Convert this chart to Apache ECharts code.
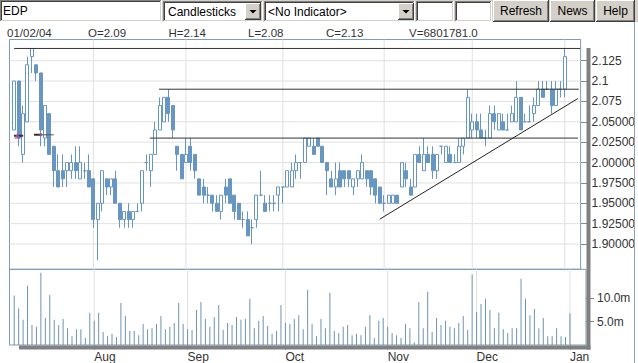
<!DOCTYPE html>
<html><head><meta charset="utf-8">
<script src="https://cdn.jsdelivr.net/npm/echarts@6/dist/echarts.min.js"></script>
<style>html,body{margin:0;padding:0;background:#fff;}#c{width:638px;height:363px;}</style>
</head><body><div id="c"></div>
<script>
// ---------- DATA ----------
const symbol = 'EDP';
const lastDate = '01/02/04';
const lastVolumeText = '6801781.0';
const monthLabels = ['Aug','Sep','Oct','Nov','Dec','Jan'];
const monthStart  = [18, 39, 61, 84, 104, 125];
const priceTicks = [1.9,1.925,1.95,1.975,2.0,2.025,2.05,2.075,2.1,2.125];
const priceTickLabels = ['1.90000','1.92500','1.95000','1.97500','2.00000','2.02500','2.05000','2.075','2.1','2.125'];
const volTicks = [5, 10];
const volTickLabels = ['5.0m','10.0m'];

const openP = [2.04,2.10,2.01,2.05,2.13,2.12,2.11,2.03,2.06,2.02,
1.99,1.99,1.99,1.99,2.00,1.98,1.99,1.99,1.98,1.93,
1.95,1.98,1.97,1.98,1.95,1.93,1.94,1.93,1.94,1.95,
2.00,1.99,2.01,2.04,2.05,2.08,2.07,2.02,2.01,2.00,
2.02,2.01,1.98,1.97,1.96,1.96,1.95,1.94,1.97,1.98,
1.96,1.95,1.93,1.93,1.92,1.93,1.96,1.95,1.95,1.95,
1.96,1.97,1.97,1.97,1.99,2.00,2.00,2.02,2.02,2.03,
2.02,2.00,1.98,1.97,1.99,1.99,1.99,1.97,1.98,1.98,
1.99,1.99,1.98,1.97,1.95,1.95,1.95,1.96,1.97,1.99,
1.97,1.97,2.01,1.99,2.01,2.01,1.99,2.02,2.00,2.01,
2.00,2.00,2.02,2.03,2.04,2.05,2.04,2.03,2.03,2.06,
2.04,2.05,2.04,2.05,2.05,2.08,2.05,2.05,2.06,2.07,
2.09,2.09,2.09,2.07,2.09,2.09];
const highP = [2.10,2.10,2.07,2.13,2.14,2.12,2.11,2.07,2.06,2.02,
2.01,2.01,2.00,2.01,2.02,2.02,2.00,2.01,1.98,1.95,
1.99,1.98,1.98,1.99,1.95,1.94,1.95,1.94,1.95,1.99,
2.01,2.01,2.05,2.08,2.08,2.09,2.07,2.02,2.01,2.03,
2.03,2.01,1.98,1.98,1.97,1.96,1.96,1.96,1.98,1.98,
1.96,1.95,1.94,1.94,1.93,1.96,1.99,1.96,1.96,1.96,
1.97,1.97,1.99,2.00,2.01,2.00,2.03,2.03,2.03,2.03,
2.02,2.00,1.99,2.00,2.00,1.99,1.99,1.98,1.99,2.01,
1.99,1.99,1.98,1.97,1.96,1.96,1.96,1.96,2.00,2.00,
1.98,2.01,2.02,2.03,2.02,2.02,2.01,2.02,2.02,2.02,
2.01,2.03,2.03,2.09,2.06,2.06,2.06,2.04,2.07,2.07,
2.06,2.06,2.06,2.07,2.10,2.08,2.06,2.07,2.08,2.10,
2.10,2.10,2.10,2.10,2.10,2.14];
const lowP = [2.04,2.02,2.00,2.05,2.11,2.10,2.02,2.02,2.01,1.97,
1.97,1.97,1.97,1.98,1.98,1.98,1.98,1.97,1.92,1.88,
1.94,1.96,1.96,1.95,1.92,1.92,1.92,1.92,1.94,1.94,
1.99,1.97,2.01,2.04,2.05,2.05,2.03,1.99,1.98,2.00,
1.99,1.98,1.96,1.95,1.95,1.94,1.94,1.93,1.95,1.95,
1.93,1.93,1.92,1.91,1.90,1.92,1.96,1.94,1.94,1.94,
1.94,1.95,1.97,1.97,1.98,1.98,2.00,2.02,2.01,2.02,
2.00,1.96,1.97,1.96,1.97,1.97,1.97,1.96,1.97,1.98,
1.97,1.96,1.95,1.95,1.94,1.95,1.95,1.95,1.97,1.97,
1.96,1.97,2.00,1.99,2.00,1.98,1.98,2.01,2.00,2.00,
2.00,2.00,2.01,2.03,2.03,2.03,2.03,2.02,2.03,2.04,
2.04,2.04,2.04,2.05,2.05,2.04,2.05,2.05,2.05,2.07,
2.08,2.09,2.06,2.07,2.08,2.08];
const closeP = [2.10,2.03,2.06,2.12,2.14,2.11,2.04,2.07,2.01,1.99,
1.97,1.98,2.00,2.00,1.99,2.00,1.99,1.97,1.93,1.95,
1.99,1.97,1.98,1.95,1.93,1.94,1.93,1.94,1.94,1.99,
2.00,2.01,2.04,2.07,2.08,2.06,2.04,2.01,1.98,2.01,
2.00,1.99,1.96,1.96,1.96,1.95,1.94,1.96,1.96,1.95,
1.94,1.93,1.93,1.91,1.92,1.96,1.96,1.94,1.95,1.95,
1.97,1.97,1.99,1.99,2.00,2.00,2.03,2.03,2.01,2.02,
2.00,1.99,1.97,1.98,1.97,1.98,1.98,1.98,1.99,2.00,
1.98,1.97,1.96,1.95,1.95,1.96,1.96,1.95,2.00,1.98,
1.96,2.01,2.00,2.01,2.00,1.99,2.01,2.02,2.02,2.00,
2.00,2.02,2.03,2.08,2.05,2.04,2.03,2.03,2.06,2.05,
2.06,2.04,2.04,2.06,2.08,2.04,2.05,2.05,2.07,2.09,
2.08,2.09,2.07,2.09,2.09,2.13];
const volumeM = [10.6,7.9,5.4,12.7,4.3,3.9,15.5,5.8,10.7,5.4,
4.3,5.6,3.6,1.9,3.4,3.4,1.5,6.9,5.2,6.9,
2.8,1.9,2.4,1.7,9.0,6.2,3.0,3.0,2.1,4.5,
3.4,3.6,4.5,6.2,3.4,3.9,4.7,9.0,4.5,3.4,
3.2,7.5,9.2,5.6,3.9,6.0,8.6,3.2,4.7,4.3,
6.0,5.4,5.6,9.9,3.6,5.2,6.2,4.1,2.4,3.0,
8.6,4.7,4.5,5.6,6.4,3.4,11.8,4.5,1.9,5.6,
3.6,11.2,3.0,2.6,3.9,4.3,2.1,2.4,2.1,3.9,
6.4,1.5,5.2,5.8,3.9,2.6,2.1,1.5,4.5,3.6,
0.6,9.2,3.6,11.4,2.8,5.8,4.3,5.2,3.9,3.6,
4.7,6.2,3.2,15.2,7.1,8.8,9.9,7.5,3.6,6.9,
3.4,2.6,3.6,3.6,14.2,9.9,6.4,7.7,3.6,5.8,
1.9,1.9,3.6,1.9,1.7,6.8];

// drawn lines (index, price)
const levelPrice = [2.14, 2.09, 2.03];
const levelFrom  = [0, 32.9, 30.8];
const levelTo    = [128.5, 128.2, 128.0];
const trendIdx   = [83.0, 128.0];
const trendPrice = [1.9305, 2.0786];
// small annotation marks near the start (index from, index to, price)
const markFrom  = [-0.05, 4.5];
const markTo    = [2.05, 6.3];
const markPrice = [2.033, 2.034];
const markTailTo = 9.0;
const markTriIdx = 0.7;

// ---------- LAYOUT ----------
const FONT = '"Liberation Sans", Arial, sans-serif';
const X_MIN = -1.057, X_MAX = 128.61;
const P_MIN = 1.869, P_MAX = 2.151;
const V_MAX = 16.24;
const CANDLE = '#6796c2';
const FRAME = '#7d9cb7';
const GRID = '#e0e0e0';

const candleData = openP.map((o, i) => [i, o, closeP[i], lowP[i], highP[i]]);
const volData = volumeM.map((v, i) => [i, v]);
const last = openP.length - 1;

// grid lines as plain line series behind the marks
function gridLine(ax, pts){
  return {type:'line', xAxisIndex:ax, yAxisIndex:ax, silent:true, showSymbol:false, z:1,
    data:pts, lineStyle:{color:GRID, width:1}, emphasis:{disabled:true}};
}
const gridSeries = [];
priceTicks.forEach(p => gridSeries.push(gridLine(0, [[X_MIN, p], [X_MAX, p]])));
monthStart.forEach(m => gridSeries.push(gridLine(0, [[m, P_MIN], [m, P_MAX]])));
monthStart.forEach(m => gridSeries.push(gridLine(1, [[m, 0], [m, V_MAX]])));

const lineSeries = levelPrice.map((p, k) => ({
  type: 'line', xAxisIndex: 0, yAxisIndex: 0, silent: true, showSymbol: false, z: 4,
  data: [[levelFrom[k], p], [levelTo[k], p]],
  lineStyle: { color: '#333', width: 1 }
}));
lineSeries.push({
  type: 'line', xAxisIndex: 0, yAxisIndex: 0, silent: true, showSymbol: false, z: 4,
  data: trendIdx.map((x, k) => [x, trendPrice[k]]),
  lineStyle: { color: '#222', width: 1 }
});
markFrom.forEach((f, k) => {
  lineSeries.push({type:'line', xAxisIndex:0, yAxisIndex:0, silent:true, showSymbol:false, z:5,
    data:[[f, markPrice[k]], [markTo[k], markPrice[k]]], lineStyle:{color:'#333', width:2}});
});
lineSeries.push({type:'line', xAxisIndex:0, yAxisIndex:0, silent:true, showSymbol:false, z:5,
  data:[[markTo[1], markPrice[1]], [markTailTo, markPrice[1]]], lineStyle:{color:'#555', width:1}});
lineSeries.push({type:'scatter', xAxisIndex:0, yAxisIndex:0, silent:true, z:6,
  data:[[markTriIdx, markPrice[0]]], symbol:'triangle', symbolSize:6, itemStyle:{color:'#b05aa8'}});
lineSeries.push({type:'scatter', xAxisIndex:0, yAxisIndex:0, silent:true, z:6,
  data:[[markTo[1] - 0.2, markPrice[1]]], symbol:'circle', symbolSize:3, itemStyle:{color:'#c0508a'}});

// ---------- GRAPHIC HELPERS ----------
function L(x1,y1,x2,y2,c,w){return {type:'line',z:100,silent:true,shape:{x1,y1,x2,y2},style:{stroke:c,lineWidth:w||1}};}
function R(x,y,w,h,fill,z){return {type:'rect',z:z||100,silent:true,shape:{x,y,width:w,height:h},style:{fill}};}
function T(text,x,y,size,color,align){return {type:'text',z:101,silent:true,style:{text,x,y,font:(size||12)+'px '+FONT,fill:color||'#000',align:align||'left',verticalAlign:'middle'}};}
function sunken(x,y,w,h){
  return [R(x,y,w,h,'#fff'),
    L(x+0.5,y,x+0.5,y+h,'#808080'), L(x,y+0.5,x+w,y+0.5,'#808080'),
    L(x+1.5,y+1,x+1.5,y+h-1,'#404040'), L(x+1,y+1.5,x+w-1,y+1.5,'#404040'),
    L(x,y+h-0.5,x+w,y+h-0.5,'#ffffff'), L(x+w-0.5,y,x+w-0.5,y+h,'#ffffff'),
    L(x+1,y+h-1.5,x+w-1,y+h-1.5,'#d4d0c8'), L(x+w-1.5,y+1,x+w-1.5,y+h-1,'#d4d0c8')];
}
function raised(x,y,w,h){
  return [R(x,y,w,h,'#d4d0c8'),
    L(x+0.5,y,x+0.5,y+h,'#ffffff'), L(x,y+0.5,x+w,y+0.5,'#ffffff'),
    L(x,y+h-0.5,x+w,y+h-0.5,'#404040'), L(x+w-0.5,y,x+w-0.5,y+h,'#404040'),
    L(x+1,y+h-1.5,x+w-1,y+h-1.5,'#808080'), L(x+w-1.5,y+1,x+w-1.5,y+h-1,'#808080')];
}
function arrowBtn(x,y,w,h){
  const g = raised(x,y,w,h);
  const cx = x + w/2, cy = y + h/2;
  g.push({type:'polygon',z:101,silent:true,shape:{points:[[cx-3.5,cy-1.5],[cx+3.5,cy-1.5],[cx,cy+2]]},style:{fill:'#000'}});
  return g;
}

const g = [];
g.push(R(0,0,638,22,'#d4d0c8',99));
g.push(...sunken(0,0,162,22)); g.push(T(symbol,3,11,12,'#000'));
g.push(...sunken(163,1,100,21)); g.push(T('Candlesticks',168,11.5,12,'#000')); g.push(...arrowBtn(245,3,16,17));
g.push(...sunken(264,1,151,21)); g.push(T('<No Indicator>',268,11.5,12,'#000')); g.push(...arrowBtn(398,3,16,17));
g.push(...sunken(416,1,38,21)); g.push(...sunken(455,1,37,21));
g.push(...raised(493,0,56,22)); g.push(T('Refresh',521,11,12,'#000','center'));
g.push(...raised(550,0,45,22)); g.push(T('News',572.5,11,12,'#000','center'));
g.push(...raised(596,0,39,22)); g.push(T('Help',615.5,11,12,'#000','center'));
const info = [[lastDate,7],['O='+openP[last].toFixed(2),88],['H='+highP[last].toFixed(2),168.5],
  ['L='+lowP[last].toFixed(2),248],['C='+closeP[last].toFixed(2),326],['V='+lastVolumeText,409]];
info.forEach(([t,x]) => g.push(T(t,x,33,11.5,'#333')));
g.push(L(634.5,22,634.5,363,'#8aa2b8'));
g.push(R(586.5,48,4,301.5,'#808080'));
g.push(R(19,345.5,571.5,4,'#808080'));

// ---------- CHART ----------
const chart = echarts.init(document.getElementById('c'), null, {renderer:'svg'});
chart.setOption({
  animation: false,
  backgroundColor: '#fff',
  grid: [
    {left: 9.5, top: 39.5, width: 576.5, height: 229.8, show: true, borderColor: FRAME, borderWidth: 1, backgroundColor: 'transparent'},
    {left: 9.5, top: 269.3, width: 576.5, height: 75.7, show: true, borderColor: FRAME, borderWidth: 1, backgroundColor: 'transparent'}
  ],
  xAxis: [
    {type:'value', gridIndex:0, min:X_MIN, max:X_MAX,
      axisLine:{show:false, onZero:false}, axisTick:{show:false}, axisLabel:{show:false}, splitLine:{show:false}},
    {type:'value', gridIndex:1, min:X_MIN, max:X_MAX,
      axisLine:{show:false, onZero:false},
      axisTick:{show:true, customValues: monthStart, length:5, lineStyle:{color:'#999'}},
      axisLabel:{show:true, customValues: monthStart, align:'left', margin:6, fontSize:12, fontFamily:FONT, color:'#333',
        formatter: v => { const k = monthStart.indexOf(Math.round(v)); return k >= 0 ? monthLabels[k] : ''; }},
      splitLine:{show:false}}
  ],
  yAxis: [
    {type:'value', gridIndex:0, position:'right', min:P_MIN, max:P_MAX,
      axisLine:{show:false, onZero:false},
      axisTick:{show:true, customValues: priceTicks, length:8, lineStyle:{color:'#888'}},
      axisLabel:{show:true, customValues: priceTicks, margin:11, fontSize:12, fontFamily:FONT, color:'#333',
        formatter: v => { const k = priceTicks.findIndex(t => Math.abs(t - v) < 1e-6); return k >= 0 ? priceTickLabels[k] : ''; }},
      splitLine:{show:false}},
    {type:'value', gridIndex:1, position:'right', min:0, max:V_MAX,
      axisLine:{show:false, onZero:false},
      axisTick:{show:true, customValues: volTicks, length:8, lineStyle:{color:'#888'}},
      axisLabel:{show:true, customValues: volTicks, margin:11, fontSize:12, fontFamily:FONT, color:'#333',
        formatter: v => { const k = volTicks.indexOf(Math.round(v)); return k >= 0 ? volTickLabels[k] : ''; }},
      splitLine:{show:false}}
  ],
  series: [
    ...gridSeries,
    {type:'candlestick', xAxisIndex:0, yAxisIndex:0, data:candleData, encode:{x:0, y:[1,2,3,4]},
      barWidth:3.5, silent:true, z:3,
      itemStyle:{color:'#ffffff', color0:CANDLE, borderColor:CANDLE, borderColor0:CANDLE, borderWidth:1}},
    {type:'bar', xAxisIndex:1, yAxisIndex:1, data:volData, barWidth:1, silent:true, z:3,
      itemStyle:{color:'#6f93b0'}},
    ...lineSeries
  ],
  graphic: {elements: g}
});
</script></body></html>
